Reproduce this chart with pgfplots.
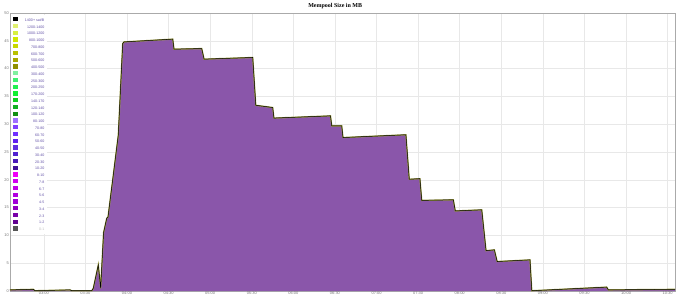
\documentclass[border=0pt]{standalone}
\usepackage{pgfplots}
\pgfplotsset{compat=1.18}
\usepackage{fontspec}
\setmainfont{Liberation Sans}
\newfontfamily\titlefont{Liberation Serif}
\definecolor{fillc}{HTML}{8A56AA}
\definecolor{edgec}{HTML}{9A9A40}
\definecolor{gridc}{HTML}{E8E8E8}
\definecolor{framec}{HTML}{AAAAAA}
\definecolor{tickc}{HTML}{777777}
\definecolor{legtext}{HTML}{6352A8}
\pgfplotstableread{
x y
155.6 0.2
172.4 0.3
173.7 0.05
198.9 0.2
200.1 0.05
214.6 0.05
215.7 0.5
219.3 4.7
221.0 0.5
223.1 10.5
225.4 13.1
226.3 13.3
233.7 28.0
236.9 44.5
237.8 44.8
273.0 45.3
273.9 43.5
293.9 43.6
295.6 41.7
330.7 42.0
332.9 33.4
345.1 33.0
346.0 31.1
386.8 31.5
387.7 29.7
394.9 29.7
395.8 27.6
441.2 28.1
443.6 20.1
451.3 20.2
452.6 16.3
475.4 16.4
476.8 14.4
495.9 14.6
499.0 7.25
505.0 7.4
507.0 5.3
530.7 5.6
532.0 0.05
586.0 0.7
587.2 0.2
635.3 0.3
}\mempool
\begin{document}
\begin{tikzpicture}
\useasboundingbox (0,0) rectangle (680pt,300pt);
\begin{axis}[
  at={(10pt,9pt)}, anchor=south west,
  scale only axis, width=665pt, height=278pt,
  xmin=155.6, xmax=635.3, ymin=0, ymax=50,
  xtick={180,210,...,630},
  xticklabels={03:00,03:30,04:00,04:30,05:00,05:30,06:00,06:30,07:00,07:30,08:00,08:30,09:00,09:30,10:00,10:30},
  ytick={0,5,...,50},
  /pgf/number format/assume math mode=true,
  grid=major, grid style={draw=gridc, line width=0.5pt},
  axis line style={draw=framec, line width=0.8pt},
  major tick length=0pt,
  ticklabel style={font=\fontsize{4}{5}\selectfont, text=tickc},
  yticklabel style={inner sep=1pt},
  xticklabel style={inner sep=1pt},
  title={\titlefont\bfseries Mempool Size in MB},
  every axis title/.style={font=\fontsize{6}{7}\selectfont, at={(0.489,1)}, anchor=base, inner sep=0pt, yshift=5pt},
  legend image code/.code={\fill[#1, draw=none] (0pt,-1pt) rectangle (4.5pt,3.4pt);},
  legend cell align=right,
  legend style={at={(0.0015,0.9935)}, anchor=north west, draw=none, fill=white,
    inner sep=2pt, row sep=1.35pt, column sep=7pt,
    font=\fontsize{3.6}{4}\selectfont, text=legtext,
    nodes={inner sep=0.3pt, text height=2.6pt, text depth=0.8pt}},
]
\addplot[fill=fillc, draw=none, forget plot] table {\mempool} \closedcycle;
\addplot[draw=edgec, line width=1.3pt, forget plot] table {\mempool};
\addplot[draw=black, line width=0.5pt, forget plot] table {\mempool};
\addlegendimage{fill=black}\addlegendentry{1400+ sat/B}
\addlegendimage{fill={rgb,255:red,224;green,240;blue,112}}\addlegendentry{1200-1400}
\addlegendimage{fill={rgb,255:red,216;green,240;blue,64}}\addlegendentry{1000-1200}
\addlegendimage{fill={rgb,255:red,208;green,232;blue,0}}\addlegendentry{800-1000}
\addlegendimage{fill={rgb,255:red,200;green,216;blue,0}}\addlegendentry{700-800}
\addlegendimage{fill={rgb,255:red,184;green,192;blue,0}}\addlegendentry{600-700}
\addlegendimage{fill={rgb,255:red,168;green,168;blue,0}}\addlegendentry{500-600}
\addlegendimage{fill={rgb,255:red,144;green,144;blue,0}}\addlegendentry{400-500}
\addlegendimage{fill={rgb,255:red,128;green,240;blue,160}}\addlegendentry{300-400}
\addlegendimage{fill={rgb,255:red,64;green,240;blue,112}}\addlegendentry{250-300}
\addlegendimage{fill={rgb,255:red,32;green,240;blue,80}}\addlegendentry{200-250}
\addlegendimage{fill={rgb,255:red,16;green,240;blue,48}}\addlegendentry{170-200}
\addlegendimage{fill={rgb,255:red,16;green,208;blue,32}}\addlegendentry{140-170}
\addlegendimage{fill={rgb,255:red,16;green,176;blue,32}}\addlegendentry{120-140}
\addlegendimage{fill={rgb,255:red,16;green,144;blue,16}}\addlegendentry{100-120}
\addlegendimage{fill={rgb,255:red,160;green,112;blue,255}}\addlegendentry{80-100}
\addlegendimage{fill={rgb,255:red,128;green,64;blue,255}}\addlegendentry{70-80}
\addlegendimage{fill={rgb,255:red,112;green,48;blue,255}}\addlegendentry{60-70}
\addlegendimage{fill={rgb,255:red,96;green,32;blue,240}}\addlegendentry{50-60}
\addlegendimage{fill={rgb,255:red,96;green,48;blue,224}}\addlegendentry{40-50}
\addlegendimage{fill={rgb,255:red,80;green,32;blue,208}}\addlegendentry{30-40}
\addlegendimage{fill={rgb,255:red,72;green,24;blue,184}}\addlegendentry{20-30}
\addlegendimage{fill={rgb,255:red,64;green,16;blue,152}}\addlegendentry{10-20}
\addlegendimage{fill={rgb,255:red,240;green,0;blue,248}}\addlegendentry{8-10}
\addlegendimage{fill={rgb,255:red,208;green,0;blue,240}}\addlegendentry{7-8}
\addlegendimage{fill={rgb,255:red,192;green,0;blue,232}}\addlegendentry{6-7}
\addlegendimage{fill={rgb,255:red,176;green,0;blue,224}}\addlegendentry{5-6}
\addlegendimage{fill={rgb,255:red,160;green,0;blue,216}}\addlegendentry{4-5}
\addlegendimage{fill={rgb,255:red,144;green,0;blue,192}}\addlegendentry{3-4}
\addlegendimage{fill={rgb,255:red,120;green,0;blue,168}}\addlegendentry{2-3}
\addlegendimage{fill={rgb,255:red,96;green,0;blue,144}}\addlegendentry{1-2}
\addlegendimage{fill={rgb,255:red,85;green,85;blue,85}}\addlegendentry[text=lightgray]{0-1}
\end{axis}
\end{tikzpicture}
\end{document}
